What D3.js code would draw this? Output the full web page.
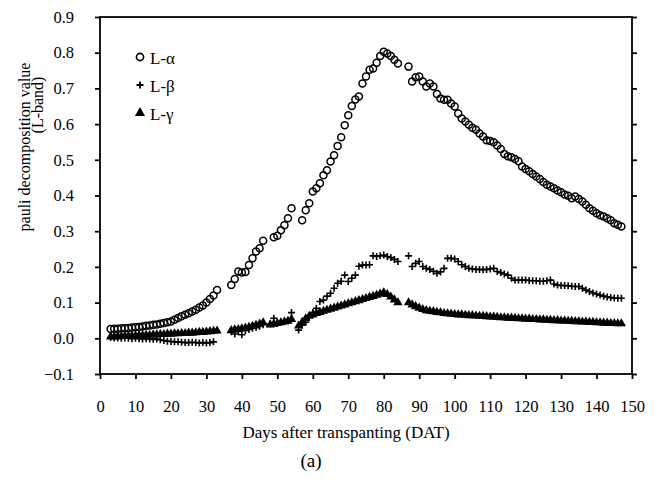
<!DOCTYPE html>
<html>
<head>
<meta charset="utf-8">
<script src="https://cdn.jsdelivr.net/npm/d3@7/dist/d3.min.js"></script>
<style>
  body { margin: 0; background: #fff; }
  svg text { font-family: "Liberation Serif", "Times New Roman", serif; fill: #000; }
</style>
</head>
<body>
<svg id="chart" width="657" height="485"></svg>
<script>
// day index of every observation (daily, 3 .. 147 DAT)
const days = d3.range(3, 148);

// L-alpha
const alphaVals = [
  0.026, 0.027, 0.027, 0.028, 0.028, 0.029, 0.030, 0.031, 0.032, 0.033, // 3-12
  0.035, 0.036, 0.038, 0.039, 0.041, 0.043, 0.045, 0.047, 0.052, 0.057, // 13-22
  0.062, 0.066, 0.070, 0.075, 0.080, 0.086, 0.092, 0.100, 0.110, 0.120, // 23-32
  0.135, null, null, null, 0.149, 0.166, 0.187, 0.184, 0.186, 0.205,    // 33-42
  0.224, 0.243, 0.252, 0.273, null, null, 0.283, 0.287, 0.303, 0.317,   // 43-52
  0.336, 0.364, null, null, 0.331, 0.359, 0.378, 0.411, 0.420, 0.434,   // 53-62
  0.457, 0.471, 0.495, 0.513, 0.539, 0.563, 0.597, 0.625, 0.651, 0.669, // 63-72
  0.677, 0.714, 0.733, 0.752, 0.756, 0.772, 0.791, 0.803, 0.798, 0.791, // 73-82
  0.780, 0.770, null, null, 0.761, 0.719, 0.731, 0.733, 0.719, 0.705,   // 83-92
  0.714, 0.705, 0.684, 0.672, 0.668, 0.668, 0.658, 0.649, 0.630, 0.616, // 93-102
  0.607, 0.598, 0.590, 0.584, 0.574, 0.565, 0.555, 0.553, 0.549, 0.540, // 103-112
  0.530, 0.516, 0.510, 0.507, 0.502, 0.496, 0.481, 0.474, 0.468, 0.460, // 113-122
  0.453, 0.446, 0.438, 0.430, 0.425, 0.420, 0.414, 0.409, 0.403, 0.399, // 123-132
  0.392, 0.397, 0.390, 0.383, 0.374, 0.364, 0.357, 0.350, 0.345, 0.341, // 133-142
  0.336, 0.331, 0.322, 0.318, 0.313                                     // 143-147
];

// L-beta
const betaVals = [
  0.002, 0.001, 0.001, 0.000, 0.001, 0.000, -0.001, 0.000, -0.001, -0.002,
  -0.001, -0.002, -0.003, -0.002, -0.004, -0.006, -0.008, -0.009, -0.010, -0.010,
  -0.011, -0.012, -0.012, -0.011, -0.012, -0.013, -0.012, -0.013, -0.012, -0.010,
  null, null, null, null, 0.018, 0.012, 0.020, 0.010, 0.022, 0.025,
  0.028, 0.030, 0.034, 0.038, null, 0.040, 0.056, 0.042, 0.045, 0.048,
  0.050, 0.072, null, 0.023, 0.037, 0.045, 0.060, 0.072, 0.084, 0.103,
  0.107, 0.118, 0.126, 0.140, 0.154, 0.160, 0.177, 0.159, 0.168, 0.177,
  0.202, 0.205, 0.205, 0.206, 0.231, 0.229, 0.231, 0.233, 0.229, 0.226,
  0.221, 0.215, null, null, 0.231, 0.201, 0.210, 0.215, 0.201, 0.196,
  0.193, 0.188, 0.182, 0.186, 0.196, 0.224, 0.224, 0.222, 0.215, 0.206,
  0.201, 0.196, 0.194, 0.193, 0.193, 0.192, 0.193, 0.194, 0.196, 0.187,
  0.184, 0.180, 0.177, 0.168, 0.163, 0.163, 0.163, 0.163, 0.162, 0.161,
  0.161, 0.160, 0.160, 0.161, 0.163, 0.152, 0.149, 0.148, 0.148, 0.147,
  0.146, 0.145, 0.145, 0.140, 0.135, 0.131, 0.127, 0.124, 0.121, 0.118,
  0.116, 0.114, 0.113, 0.112, 0.112
];

// L-gamma
const gammaVals = [
  0.004, 0.004, 0.005, 0.005, 0.006, 0.006, 0.007, 0.007, 0.008, 0.008,
  0.009, 0.009, 0.010, 0.010, 0.011, 0.011, 0.012, 0.012, 0.013, 0.013,
  0.014, 0.014, 0.015, 0.015, 0.016, 0.017, 0.017, 0.018, 0.019, 0.020,
  0.021, null, null, null, 0.022, 0.024, 0.025, 0.027, 0.029, 0.031,
  0.034, 0.037, 0.040, 0.044, null, 0.038, 0.040, 0.042, 0.044, 0.046,
  0.048, 0.053, null, 0.035, 0.045, 0.055, 0.062, 0.066, 0.070, 0.073,
  0.076, 0.079, 0.082, 0.085, 0.088, 0.091, 0.094, 0.097, 0.100, 0.103,
  0.106, 0.109, 0.112, 0.115, 0.118, 0.121, 0.124, 0.128, 0.123, 0.116,
  0.108, 0.100, null, null, 0.100, 0.094, 0.089, 0.085, 0.081, 0.078,
  0.076, 0.075, 0.073, 0.072, 0.070, 0.069, 0.068, 0.067, 0.066, 0.066,
  0.065, 0.064, 0.064, 0.063, 0.062, 0.062, 0.061, 0.060, 0.060, 0.059,
  0.058, 0.058, 0.057, 0.057, 0.056, 0.055, 0.055, 0.054, 0.054, 0.053,
  0.053, 0.052, 0.052, 0.051, 0.051, 0.050, 0.050, 0.049, 0.049, 0.048,
  0.048, 0.047, 0.047, 0.046, 0.046, 0.045, 0.045, 0.044, 0.044, 0.043,
  0.043, 0.042, 0.042, 0.041, 0.041
];

const xTicks = [0, 10, 20, 30, 40, 50, 60, 70, 80, 90, 100, 110, 120, 130, 140, 150];
const yTicks = [-0.1, 0, 0.1, 0.2, 0.3, 0.4, 0.5, 0.6, 0.7, 0.8, 0.9];
const seriesNames = ['L-α', 'L-β', 'L-γ'];

const svg = d3.select('#chart');
const plotL = 100, plotR = 632, plotT = 17, plotB = 374;

const x = d3.scaleLinear().domain([0, 150]).range([plotL, plotR]);
const y = d3.scaleLinear().domain([-0.1, 0.9]).range([plotB, plotT]);

// frame
svg.append('rect').attr('x', plotL).attr('y', plotT)
  .attr('width', plotR - plotL).attr('height', plotB - plotT)
  .attr('fill', 'none').attr('stroke', '#000').attr('stroke-width', 1.8);

// axes
let xAxis = svg.append('g').attr('transform', `translate(0,${plotB})`)
  .call(d3.axisBottom(x).tickValues(xTicks).tickSize(5).tickPadding(21).tickFormat(d3.format('d')));
let yAxis = svg.append('g').attr('transform', `translate(${plotL},0)`)
  .call(d3.axisLeft(y).tickValues(yTicks).tickSize(5).tickPadding(21).tickFormat(d3.format('.1f')));
let yAxisR = svg.append('g').attr('transform', `translate(${plotR},0)`)
  .call(d3.axisRight(y).tickValues(yTicks).tickSize(5).tickFormat(''));

[xAxis, yAxis, yAxisR].forEach(function (g) {
  g.select('.domain').remove();
  g.selectAll('line').attr('stroke', '#000').attr('stroke-width', 1.8);
  g.selectAll('text').attr('font-size', '16.5px').attr('font-family', '"Liberation Serif", serif');
});

// points
const toPts = vals => days.map((d, i) => ({ d: d, v: vals[i] })).filter(p => p.v !== null);

svg.append('g').selectAll('circle').data(toPts(alphaVals)).enter().append('circle')
  .attr('cx', p => x(p.d)).attr('cy', p => y(p.v)).attr('r', 3.5)
  .attr('fill', 'none').attr('stroke', '#000').attr('stroke-width', 1.5);

svg.append('g').selectAll('path').data(toPts(betaVals)).enter().append('path')
  .attr('d', 'M-3.5,0H3.5M0,-3.5V3.5')
  .attr('transform', p => `translate(${x(p.d)},${y(p.v)})`)
  .attr('stroke', '#000').attr('stroke-width', 1.6).attr('fill', 'none');

const tri = d3.symbol().type(d3.symbolTriangle).size(38);
svg.append('g').selectAll('path').data(toPts(gammaVals)).enter().append('path')
  .attr('d', tri)
  .attr('transform', p => `translate(${x(p.d)},${y(p.v)})`)
  .attr('fill', '#000');

// legend
let legend = svg.append('g').attr('transform', 'translate(140,57)');
legend.append('circle').attr('cx', 0).attr('cy', 0).attr('r', 3.6)
  .attr('fill', 'none').attr('stroke', '#000').attr('stroke-width', 1.6);
legend.append('path').attr('d', 'M-3.5,28H3.5M0,24.5V31.5')
  .attr('stroke', '#000').attr('stroke-width', 1.8);
legend.append('path').attr('d', d3.symbol().type(d3.symbolTriangle).size(45))
  .attr('transform', 'translate(0,56)').attr('fill', '#000');
legend.selectAll('text').data(seriesNames).enter().append('text')
  .attr('x', 10).attr('y', (d, i) => i * 28 + 6.5)
  .attr('font-size', '17px').text(d => d);

// axis titles
svg.append('text').attr('transform', 'translate(30,147) rotate(-90)')
  .attr('text-anchor', 'middle').attr('font-size', '16px').text('pauli decomposition value');
svg.append('text').attr('transform', 'translate(43,105) rotate(-90)')
  .attr('text-anchor', 'middle').attr('font-size', '16px').text('(L-band)');
svg.append('text').attr('x', 346).attr('y', 438)
  .attr('text-anchor', 'middle').attr('font-size', '17px').text('Days after transpanting (DAT)');
svg.append('text').attr('x', 311).attr('y', 467)
  .attr('text-anchor', 'middle').attr('font-size', '19px').text('(a)');
</script>
</body>
</html>
